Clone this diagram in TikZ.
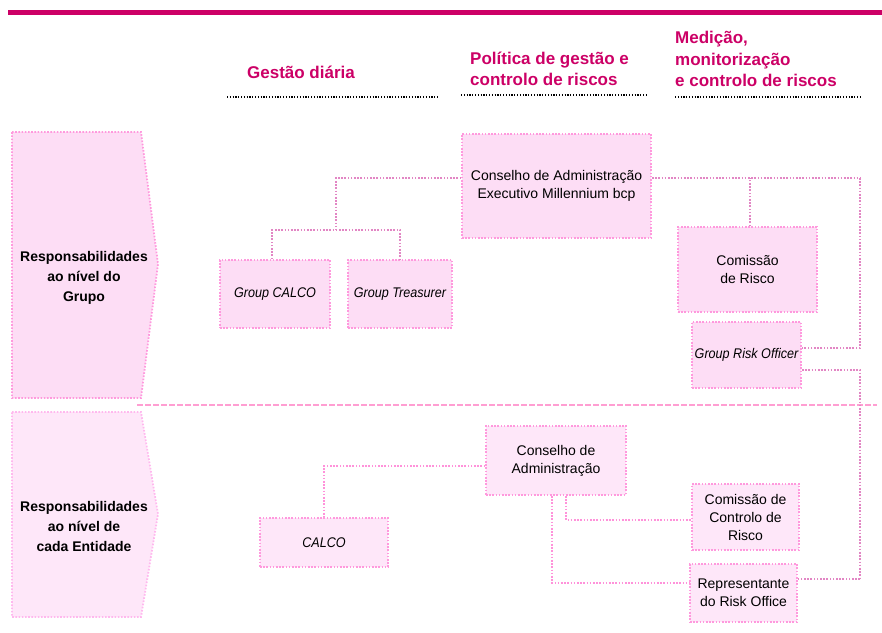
\documentclass[tikz,border=0pt]{standalone}
\usepackage{fontspec}
\usepackage{graphicx}
\setmainfont{Liberation Sans}
\newcommand\condit[1]{\scalebox{0.9}[1]{\itshape #1}}
\begin{document}
\begin{tikzpicture}[x=1pt,y=-1pt,
  box/.style={draw=boxborder, fill=boxfill, line width=1.8pt, dash pattern=on 1.6pt off 1.6pt,
    inner sep=0pt, align=center, font=\fontsize{14}{18}\selectfont},
  boxlow/.style={box, fill=boxfilllow},
  conn/.style={draw=connup, line width=1.8pt, dash pattern=on 1.6pt off 1.6pt},
  connlow/.style={draw=connlow, line width=1.8pt, dash pattern=on 1.6pt off 1.6pt},
  head/.style={text=headcol, font=\bfseries\fontsize{17}{21.5}\selectfont, inner sep=0pt},
  headline/.style={draw=black, line width=1.5pt, dash pattern=on 1.2pt off 1.6pt},
  lefttxt/.style={font=\bfseries\fontsize{14}{20}\selectfont, align=center, inner sep=0pt}]
\definecolor{headcol}{HTML}{CC0066}
\definecolor{boxborder}{HTML}{FF99DD}
\definecolor{boxfill}{HTML}{FDDDF5}
\definecolor{boxfilllow}{HTML}{FEE7F9}
\definecolor{connup}{HTML}{E286C4}
\definecolor{connlow}{HTML}{FF92DA}
\definecolor{sepcol}{HTML}{FF9ED2}
\definecolor{arrowlowborder}{HTML}{FFB8EE}
\useasboundingbox (0,0) rectangle (882,632);
% top bar
\fill[headcol] (8,10) rectangle (882,15);
% headers
\node[head] (h1) at (301,72) {Gestão diária};
\node[head, anchor=west, align=left] (h2) at (470,69) {Política de gestão e\\controlo de riscos};
\node[head, anchor=west, align=left] (h3) at (675,59) {Medição,\\monitorização\\e controlo de riscos};
\draw[headline] (227,97) -- (439,97);
\draw[headline] (461,95) -- (647,95);
\draw[headline] (675,97) -- (861,97);
% left arrows
\path[draw=boxborder, fill=boxfill, line width=1.8pt, dash pattern=on 1.6pt off 1.6pt]
  (12,132) -- (141,132) -- (158,264) -- (141,398) -- (12,398) -- cycle;
\path[draw=arrowlowborder, fill=boxfilllow, line width=1.8pt, dash pattern=on 1.6pt off 1.6pt]
  (12,412) -- (141,412) -- (158,514) -- (141,617) -- (12,617) -- cycle;
\node[lefttxt] (l1) at (84,278) {Responsabilidades\\ao nível do\\Grupo};
\node[lefttxt] (l2) at (84,526) {Responsabilidades\\ao nível de\\cada Entidade};
% separator
\draw[sepcol, line width=2.5pt, dash pattern=on 6pt off 2pt] (137,405) -- (877,405);
% upper boxes
\node[box, minimum width=189pt, minimum height=104pt] (ca) at (556.5,186) {Conselho de Administração\\Executivo Millennium bcp};
\node[box, minimum width=110pt, minimum height=68pt] (gcalco) at (275,294) {\condit{Group CALCO}};
\node[box, minimum width=104pt, minimum height=68pt] (gtreas) at (400,294) {\condit{Group Treasurer}};
\node[box, minimum width=139pt, minimum height=85pt] (cr) at (747.5,269.5) {Comissão\\de Risco};
\node[box, minimum width=109pt, minimum height=66pt] (gro) at (746.5,355) {\makebox[0pt]{\condit{Group Risk Officer}}};
% lower boxes
\node[boxlow, minimum width=140pt, minimum height=69pt] (ca2) at (556,460.5) {Conselho de\\Administração};
\node[boxlow, minimum width=128pt, minimum height=49pt] (calco) at (324,542.5) {\condit{CALCO}};
\node[boxlow, minimum width=107pt, minimum height=66pt] (ccr) at (745.5,517) {Comissão de\\Controlo de\\Risco};
\node[boxlow, minimum width=107pt, minimum height=58pt] (rep) at (743.5,593) {Representante\\do Risk Office};
% coordinates
\coordinate (j1) at (336,230);
\coordinate (rt) at (860,178);
\coordinate (rb) at (860,579);
% upper connectors
\draw[conn] ([yshift=8pt]ca.west) -| (j1);
\draw[conn] ([xshift=-3pt]gcalco.north) |- (j1) -| (gtreas.north);
\draw[conn] ([yshift=8pt]ca.east) -- (rt);
\draw[conn] ([xshift=2.5pt]cr.north) -- ([xshift=2.5pt]cr.north |- rt);
\draw[conn] (rt) |- ([yshift=7pt]gro.east);
\draw[conn] ([yshift=-15pt]gro.east) -| (rb);
\draw[conn] (rb) -- (rep.east |- rb);
% lower connectors
\draw[connlow] ([yshift=-5.5pt]ca2.west) -| (calco.north);
\draw[connlow] ([xshift=10pt]ca2.south) |- ([yshift=-3pt]ccr.west);
\draw[connlow] ([xshift=-4pt]ca2.south) |- ([yshift=10pt]rep.west);
\end{tikzpicture}
\end{document}
